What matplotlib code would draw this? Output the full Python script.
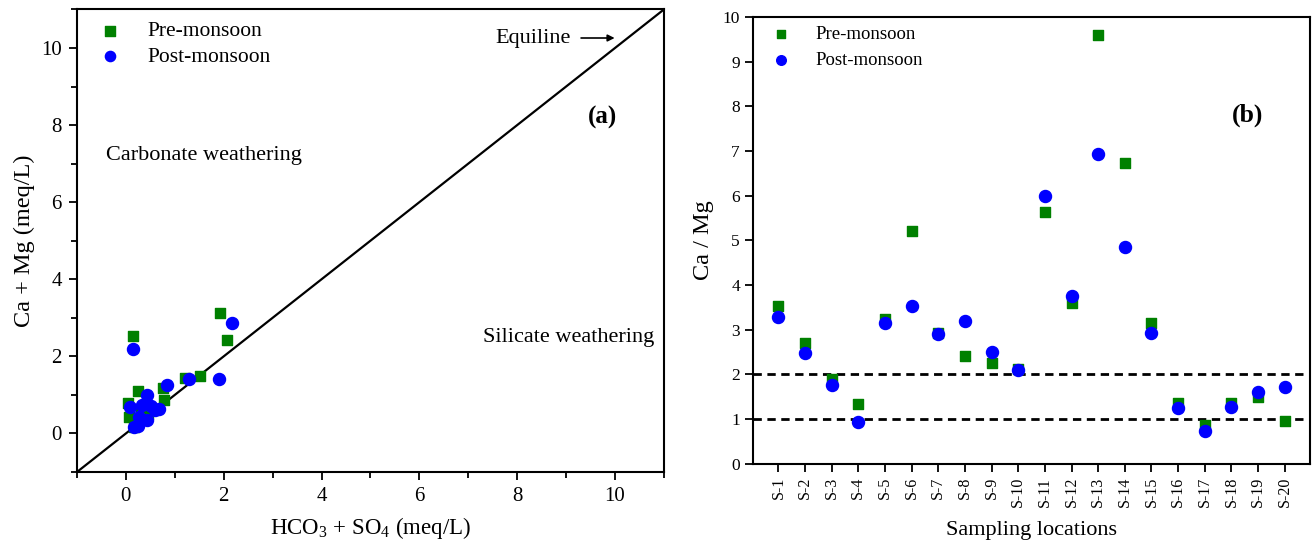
import matplotlib
matplotlib.use("Agg")
import matplotlib.pyplot as plt

plt.rcParams['font.family'] = ['Liberation Serif', 'DejaVu Serif']
plt.rcParams['mathtext.fontset'] = 'custom'
plt.rcParams['mathtext.rm'] = 'Liberation Serif'
plt.rcParams['mathtext.default'] = 'regular'

# Panel (a): HCO3 + SO4 vs Ca + Mg (meq/L)
pre_x = [0.14, 1.92, 2.06, 1.20, 1.51, 0.24, 0.75, 0.78, 0.04, 0.06, 0.17, 0.30, 0.45]
pre_y = [2.52, 3.12, 2.42, 1.45, 1.50, 1.09, 1.17, 0.88, 0.80, 0.42, 0.16, 0.60, 0.50]
post_x = [0.14, 2.16, 1.90, 1.29, 0.83, 0.44, 0.08, 0.33, 0.51, 0.67, 0.27, 0.44, 0.24, 0.17, 0.60]
post_y = [2.20, 2.86, 1.40, 1.40, 1.25, 1.00, 0.68, 0.73, 0.70, 0.64, 0.42, 0.34, 0.20, 0.17, 0.60]

# Panel (b): Ca / Mg per sampling location
sites = ["S-%d" % i for i in range(1, 21)]
pre_ratio = [3.54, 2.70, 1.90, 1.34, 3.24, 5.22, 2.93, 2.42, 2.25, 2.13,
             5.63, 3.60, 9.60, 6.72, 3.16, 1.37, 0.86, 1.36, 1.49, 0.95]
post_ratio = [3.29, 2.49, 1.77, 0.93, 3.15, 3.52, 2.90, 3.19, 2.51, 2.09,
              6.00, 3.75, 6.93, 4.86, 2.93, 1.24, 0.74, 1.26, 1.60, 1.72]

green = '#008000'
blue = '#0000ff'

fig = plt.figure(figsize=(13.12, 5.45), dpi=100)

# ---- panel (a)
ax1 = fig.add_axes([0.0587, 0.134, 0.4473, 0.8486])
ax1.scatter(pre_x, pre_y, marker='s', s=60, color=green, label='Pre-monsoon', zorder=3)
ax1.scatter(post_x, post_y, marker='o', s=75, color=blue, label='Post-monsoon', zorder=3)
ax1.plot([-1, 11], [-1, 11], color='black', lw=1.6, zorder=2)
ax1.set_xlim(-1, 11)
ax1.set_ylim(-1, 11)
ax1.set_xticks([0, 2, 4, 6, 8, 10])
ax1.set_yticks([0, 2, 4, 6, 8, 10])
ax1.set_xticks(range(-1, 12, 1), minor=True)
ax1.set_yticks(range(-1, 12, 1), minor=True)
ax1.tick_params(which='both', direction='out', labelsize=15, width=1.3)
ax1.tick_params(which='major', length=6, pad=5)
ax1.tick_params(which='minor', length=4)
ax1.set_xlabel('HCO$_3$ + SO$_4$ (meq/L)', fontsize=16.5, labelpad=6)
ax1.set_ylabel('Ca + Mg (meq/L)', fontsize=17.5, labelpad=4)
ax1.text(-0.4, 7.2, 'Carbonate weathering', fontsize=16, va='center')
ax1.text(10.8, 2.5, 'Silicate weathering', fontsize=16, va='center', ha='right')
ax1.text(9.45, 8.2, '(a)', fontsize=18, fontweight='bold', va='center')
ax1.annotate('', xy=(10.05, 10.26), xytext=(9.25, 10.26),
             arrowprops=dict(arrowstyle='-|>', color='black', lw=1.2,
                             mutation_scale=10))
ax1.text(7.55, 10.26, 'Equiline', fontsize=16, va='center')
ax1.legend(loc='upper left', fontsize=15.5, frameon=False, handletextpad=0.7,
           borderaxespad=0.15, labelspacing=0.25, markerscale=0.85)
for sp in ax1.spines.values():
    sp.set_linewidth(1.5)

# ---- panel (b)
ax2 = fig.add_axes([0.574, 0.149, 0.4245, 0.82])
xs = list(range(1, len(sites) + 1))
ax2.scatter(xs, pre_ratio, marker='s', s=55, color=green, label='Pre-monsoon', zorder=3)
ax2.scatter(xs, post_ratio, marker='o', s=75, color=blue, label='Post-monsoon', zorder=4)
ax2.axhline(2, color='black', lw=2, ls=(0, (3, 2)), zorder=2)
ax2.axhline(1, color='black', lw=2, ls=(0, (3, 2)), zorder=2)
ax2.set_xlim(0.05, 20.95)
ax2.set_ylim(0, 10)
ax2.set_yticks(range(0, 11))
ax2.set_xticks(xs)
ax2.set_xticklabels(sites, rotation=90)
ax2.tick_params(axis='y', direction='out', labelsize=12.5, width=1.3, length=6)
ax2.tick_params(axis='x', direction='out', labelsize=11.5, width=1.3, length=6)
ax2.set_xlabel('Sampling locations', fontsize=16, labelpad=10)
ax2.set_ylabel('Ca / Mg', fontsize=17.5, labelpad=6)
ax2.text(18.0, 7.8, '(b)', fontsize=18.5, fontweight='bold', va='center')
ax2.legend(loc='upper left', fontsize=13.5, frameon=False, handletextpad=0.8,
           borderaxespad=0.2, labelspacing=0.45, markerscale=0.8,
           borderpad=0.3)
for sp in ax2.spines.values():
    sp.set_linewidth(1.5)

fig.savefig('out.png', dpi=100)
